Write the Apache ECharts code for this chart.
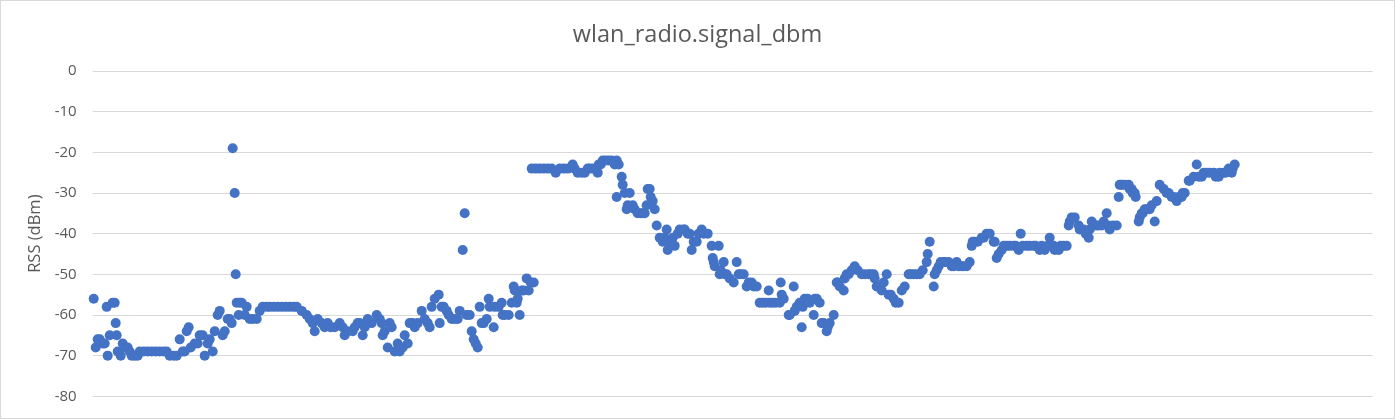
<!DOCTYPE html>
<html>
<head>
<meta charset="utf-8">
<script src="https://cdn.jsdelivr.net/npm/echarts@6/dist/echarts.min.js"></script>
<style>
html, body { margin: 0; padding: 0; background: #ffffff; }
#chart { width: 1395px; height: 419px; box-sizing: border-box; border: 1px solid #d9d9d9; }
</style>
</head>
<body>
<div id="chart"></div>
<script>
const chartTitle = 'wlan_radio.signal_dbm';
const yAxisTitle = 'RSS (dBm)';
const yTicks = [-80, -70, -60, -50, -40, -30, -20, -10, 0];

// sample index of each reading
const sampleIdx = [
  1, 3, 5, 7, 10, 12, 14, 15, 17, 20, 22, 23, 24, 25, 28, 30, 33, 35, 37, 39,
  42, 45, 47, 51, 55, 59, 63, 67, 71, 74, 77, 81, 84, 87, 90, 92, 94, 96, 98, 102,
  105, 107, 110, 112, 115, 117, 120, 122, 125, 127, 130, 132, 135, 137, 139, 140, 142, 143, 144, 146,
  147, 149, 152, 154, 157, 160, 164, 167, 170, 174, 177, 181, 185, 189, 193, 197, 201, 204, 209, 214,
  217, 220, 222, 225, 229, 232, 235, 238, 242, 247, 250, 252, 255, 260, 262, 265, 267, 270, 272, 275,
  279, 284, 287, 289, 290, 292, 295, 297, 299, 302, 305, 307, 310, 312, 315, 317, 320, 322, 325, 329,
  332, 335, 337, 339, 342, 346, 347, 349, 351, 354, 356, 359, 362, 365, 367, 370, 372, 374, 377, 379,
  381, 383, 385, 387, 389, 391, 394, 396, 397, 401, 402, 406, 409, 410, 412, 416, 419, 421, 422, 424,
  425, 427, 429, 431, 434, 436, 438, 441,
  439, 443, 447, 451, 455, 459, 463, 467, 471, 475, 480, 482, 485, 489, 492, 495, 497, 500, 503, 505,
  506, 508, 510, 513, 516, 519, 522, 524, 526,
  524, 529, 530, 532, 534, 535, 537, 540, 542, 545, 548, 550, 552, 554, 555, 557, 558, 560, 562, 564,
  567, 570, 572, 574, 575, 577, 580, 582, 585, 587, 591, 592, 595, 597, 599, 601, 604, 606, 609, 611,
  615, 619, 620, 621, 622, 626, 627, 628, 631, 632, 634, 637, 641, 644, 646, 648, 651, 654, 656, 659,
  661, 664, 667, 670, 673, 676, 677, 680, 683, 687, 688, 689, 691, 696, 697, 701, 702, 704, 707, 709,
  710, 712, 715, 717, 721, 722, 724, 727, 729, 731, 734, 735, 737, 741, 744, 745, 747, 751, 752, 754,
  756, 759, 762, 765, 769, 772, 776, 778, 781, 782, 784, 786, 789, 791, 794, 796, 798, 801, 803, 806,
  809, 812, 816, 818, 821, 824, 827, 830, 834, 835, 837, 841, 842, 844, 846, 848, 851, 853, 856, 859,
  861, 864, 866, 869, 871, 874, 877, 879, 880, 882, 885, 889, 891, 894, 897, 901, 902, 904, 906, 909,
  911, 914, 917, 921, 923, 926, 928, 930, 934, 937, 941, 943, 947, 949, 952, 955, 957, 961, 962, 966,
  968, 971, 974, 976, 977, 979, 982, 986, 987, 991, 993, 996, 997, 999, 1001, 1004, 1006, 1009, 1011, 1014,
  1015, 1017, 1020, 1024, 1026, 1027, 1029, 1032, 1036, 1037, 1039, 1040, 1042, 1043, 1046, 1047, 1049, 1050, 1052, 1054,
  1057, 1059, 1062, 1064, 1067, 1071, 1074, 1076, 1079, 1081, 1084, 1086, 1089, 1090, 1092, 1096, 1097, 1101, 1104, 1106,
  1109, 1111, 1114, 1117, 1121, 1123, 1126, 1127, 1131, 1133, 1136, 1139, 1140, 1142
];

// signal strength in dBm for each reading
const signalDbm = [
  -56, -68, -66, -66, -67, -67, -58, -70, -65, -57, -57, -62, -65, -69, -70, -67, -68, -68, -69, -70,
  -70, -70, -69, -69, -69, -69, -69, -69, -69, -69, -70, -70, -70, -66, -69, -69, -64, -63, -68, -67,
  -67, -65, -65, -70, -67, -66, -69, -64, -60, -59, -65, -64, -61, -61, -62, -19, -30, -50, -57, -60,
  -57, -57, -60, -58, -61, -61, -61, -59, -58, -58, -58, -58, -58, -58, -58, -58, -58, -58, -59, -60,
  -61, -62, -64, -61, -62, -63, -62, -63, -63, -62, -63, -65, -64, -64, -63, -62, -62, -65, -63, -61,
  -62, -60, -61, -62, -65, -64, -68, -62, -63, -69, -67, -69, -68, -65, -67, -62, -62, -63, -62, -59,
  -61, -62, -63, -58, -56, -55, -62, -58, -58, -59, -60, -61, -61, -61, -59, -44, -35, -60, -60, -64,
  -66, -67, -68, -58, -62, -62, -61, -56, -58, -63, -58, -58, -57, -60, -60, -60, -57, -53, -54, -57,
  -56, -60, -54, -54, -51, -54, -52, -52,
  -24, -24, -24, -24, -24, -24, -25, -24, -24, -24, -23, -24, -25, -25, -25, -24, -24, -24, -24, -25,
  -23, -23, -22, -22, -22, -22, -23, -22, -23,
  -31, -26, -28, -30, -34, -33, -30, -33, -34, -35, -35, -35, -35, -33, -29, -29, -31, -32, -34, -38,
  -41, -42, -41, -39, -44, -42, -41, -43, -40, -39, -39, -39, -40, -40, -44, -42, -42, -40, -39, -40,
  -40, -43, -46, -47, -48, -43, -50, -49, -47, -50, -50, -51, -52, -47, -50, -50, -50, -53, -52, -52,
  -53, -53, -57, -57, -57, -54, -57, -57, -57, -57, -52, -55, -56, -60, -60, -53, -59, -58, -57, -63,
  -58, -56, -56, -57, -60, -56, -56, -57, -62, -62, -64, -63, -62, -60, -52, -52, -53, -54, -51, -50,
  -50, -49, -48, -49, -50, -50, -50, -50, -50, -51, -53, -53, -54, -52, -50, -55, -55, -56, -57, -57,
  -54, -53, -50, -50, -50, -50, -50, -49, -47, -45, -42, -53, -50, -49, -48, -47, -47, -47, -47, -48,
  -48, -47, -48, -48, -48, -48, -47, -43, -42, -42, -42, -41, -41, -40, -40, -42, -42, -46, -45, -44,
  -43, -43, -43, -43, -43, -44, -40, -43, -43, -43, -43, -43, -44, -43, -44, -43, -41, -43, -44, -44,
  -43, -43, -43, -38, -37, -36, -36, -38, -39, -39, -40, -41, -39, -37, -38, -38, -38, -38, -37, -35,
  -38, -39, -38, -38, -31, -28, -28, -28, -28, -29, -29, -30, -30, -31, -37, -36, -35, -35, -34, -34,
  -34, -33, -37, -32, -28, -29, -30, -30, -31, -31, -32, -31, -31, -30, -30, -27, -27, -26, -23, -26,
  -26, -25, -25, -25, -25, -26, -26, -25, -25, -25, -24, -25, -24, -23
];

const points = sampleIdx.map((x, i) => [x, signalDbm[i]]);

const chart = echarts.init(document.getElementById('chart'));
chart.setOption({
  animation: false,
  backgroundColor: '#ffffff',
  title: {
    text: chartTitle,
    left: 'center',
    top: 17,
    textStyle: { fontFamily: 'Open Sans', fontSize: 23.5, fontWeight: 'normal', color: '#595959' }
  },
  grid: { left: 91.7, right: 21.3, top: 70, bottom: 21.7, containLabel: false },
  xAxis: {
    type: 'value',
    min: 0,
    max: 1280,
    show: false,
    splitLine: { show: false }
  },
  yAxis: {
    type: 'value',
    min: yTicks[0],
    max: yTicks[yTicks.length - 1],
    interval: 10,
    name: yAxisTitle,
    nameLocation: 'middle',
    nameRotate: 90,
    nameGap: 48,
    nameTextStyle: { fontFamily: 'Open Sans', fontSize: 16.5, color: '#595959' },
    axisLine: { show: false },
    axisTick: { show: false },
    axisLabel: { fontFamily: 'Open Sans', fontSize: 15, color: '#595959', margin: 16 },
    splitLine: { lineStyle: { color: '#d9d9d9', width: 1 } }
  },
  series: [{
    type: 'scatter',
    data: points,
    symbol: 'circle',
    symbolSize: 10,
    itemStyle: { color: '#4472C4', opacity: 1 }
  }]
});
</script>
</body>
</html>
